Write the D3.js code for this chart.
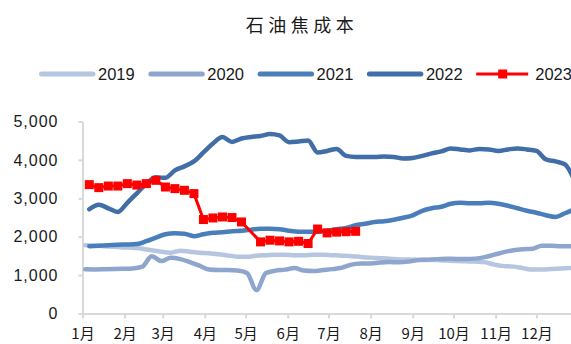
<!DOCTYPE html>
<html>
<head>
<meta charset="utf-8">
<script src="https://cdn.jsdelivr.net/npm/d3@7"></script>
<style>
  html, body { margin: 0; padding: 0; background: #fff; }
  svg { display: block; }
</style>
</head>
<body>
<svg id="chart" width="571" height="344"></svg>
<script>
// Weekly petroleum coke cost (元/吨), one series per year, plotted on a Jan–Dec calendar.
const seriesNames = ["2019", "2020", "2021", "2022", "2023"];
const seriesColors = ["#B6C5E0", "#8EA6CE", "#4A7EBB", "#416EA6", "#FF0000"];
const firstWeek = ["2023-01-03", "2023-01-03", "2023-01-06", "2023-01-06", "2023-01-06"];

const cost2019 = [1779, 1766, 1753, 1735, 1719, 1714, 1688, 1649, 1610, 1584, 1636, 1610, 1584,
  1571, 1545, 1512, 1481, 1475, 1506, 1519, 1532, 1532, 1519, 1519, 1532, 1532, 1519, 1506,
  1494, 1473, 1455, 1442, 1429, 1408, 1408, 1403, 1390, 1390, 1377, 1364, 1358, 1351, 1338,
  1273, 1234, 1221, 1182, 1143, 1143, 1156, 1169, 1182];
const cost2020 = [1151, 1148, 1151, 1156, 1164, 1174, 1221, 1494, 1364, 1449, 1416, 1338, 1247,
  1143, 1130, 1130, 1117, 1052, 610, 1052, 1117, 1143, 1182, 1117, 1104, 1130, 1156, 1195,
  1273, 1299, 1304, 1330, 1338, 1332, 1351, 1390, 1403, 1416, 1429, 1421, 1421, 1429, 1468,
  1532, 1597, 1649, 1675, 1688, 1766, 1766, 1753, 1753];
const cost2021 = [1753, 1766, 1779, 1792, 1797, 1810, 1883, 1974, 2065, 2091, 2078, 2013, 2065,
  2104, 2117, 2143, 2156, 2182, 2208, 2208, 2195, 2156, 2130, 2130, 2130, 2156, 2195, 2229,
  2299, 2338, 2384, 2403, 2442, 2494, 2558, 2675, 2740, 2779, 2857, 2883, 2870, 2870, 2883,
  2857, 2805, 2740, 2675, 2623, 2558, 2514, 2610, 2714];
const cost2022 = [2714, 2831, 2740, 2644, 2883, 3130, 3377, 3545, 3532, 3727, 3831, 3961, 4195,
  4429, 4597, 4468, 4558, 4597, 4623, 4675, 4636, 4462, 4481, 4506, 4195, 4234, 4286, 4104,
  4078, 4078, 4078, 4091, 4078, 4039, 4052, 4104, 4169, 4221, 4299, 4273, 4247, 4286, 4273,
  4234, 4273, 4299, 4273, 4234, 4013, 3961, 3883, 3468];
// 2023: no quote in the May Day holiday week (null)
const cost2023 = [3356, 3278, 3319, 3319, 3382, 3345, 3382, 3468, 3294, 3252, 3208, 3122, 2447,
  2488, 2514, 2499, 2384, null, 1865, 1909, 1891, 1865, 1880, 1823, 2200, 2100, 2120, 2130, 2140];

const seriesValues = [cost2019, cost2020, cost2021, cost2022, cost2023];
const yTicks = [0, 1000, 2000, 3000, 4000, 5000];
const title = "石油焦成本";

const parse = d3.timeParse("%Y-%m-%d");
const series = seriesNames.map((name, k) => {
  const start = parse(firstWeek[k]);
  return {
    name,
    color: seriesColors[k],
    points: seriesValues[k]
      .map((v, i) => ({ date: d3.timeDay.offset(start, 7 * i), value: v }))
      .filter(p => p.value !== null)
  };
});

const svg = d3.select("#chart");
const axisColor = "#D9D9D9";
const plotLeft = 82.5, plotBottom = 313.5, plotTop = 121.5;
const dayPx = 1.359;

const x = d3.scaleTime()
  .domain([parse("2023-01-01"), parse("2024-01-01")])
  .range([plotLeft, plotLeft + 365 * dayPx]);
const y = d3.scaleLinear().domain([0, 5000]).range([plotBottom, plotTop]);

// title
svg.append("text")
  .attr("x", 302).attr("y", 32)
  .attr("text-anchor", "middle")
  .style("font-family", "'Noto Sans CJK SC', sans-serif")
  .style("font-size", "18px")
  .style("letter-spacing", "4.5px")
  .attr("fill", "#1a1a1a")
  .text(title);

// legend
const legend = svg.append("g").attr("transform", "translate(39,74)");
series.forEach((s, i) => {
  const g = legend.append("g").attr("transform", `translate(${i * 109.3},0)`);
  if (s.name === "2023") {
    g.append("line").attr("x1", 0).attr("x2", 52).attr("y1", 0).attr("y2", 0)
      .attr("stroke", s.color).attr("stroke-width", 3);
    g.append("rect").attr("x", 22).attr("y", -4.5).attr("width", 9).attr("height", 9)
      .attr("fill", s.color);
  } else {
    g.append("line").attr("x1", 2.5).attr("x2", 54).attr("y1", 0).attr("y2", 0)
      .attr("stroke", s.color).attr("stroke-width", 5).attr("stroke-linecap", "round");
  }
  g.append("text").attr("x", 59).attr("y", 6)
    .style("font-family", "'Liberation Sans', Arial, sans-serif")
    .style("font-size", "16.5px")
    .attr("fill", "#1a1a1a")
    .text(s.name);
});

// y axis
const yAxis = svg.append("g")
  .attr("transform", `translate(${plotLeft},0)`)
  .call(d3.axisLeft(y).tickValues(yTicks).tickFormat(d3.format(",")).tickSize(4).tickSizeOuter(0).tickPadding(20));
yAxis.select(".domain").attr("stroke", axisColor).attr("stroke-width", 2);
yAxis.selectAll(".tick line").attr("stroke", axisColor).attr("stroke-width", 2);
yAxis.selectAll(".tick text")
  .style("font-family", "'Liberation Sans', Arial, sans-serif")
  .style("font-size", "16px")
  .style("letter-spacing", "1px")
  .attr("fill", "#1a1a1a");

// x axis
const xAxis = svg.append("g")
  .attr("transform", `translate(0,${plotBottom})`)
  .call(d3.axisBottom(x).ticks(d3.timeMonth.every(1)).tickFormat(d => (d.getMonth() + 1) + "月")
    .tickSize(5).tickSizeOuter(0).tickPadding(10));
xAxis.select(".domain").attr("stroke", axisColor).attr("stroke-width", 2);
xAxis.selectAll(".tick line").attr("stroke", axisColor).attr("stroke-width", 2);
xAxis.selectAll(".tick").filter(d => d.getFullYear() > 2023).remove();
xAxis.selectAll(".tick text")
  .style("font-family", "'Noto Sans CJK SC', sans-serif")
  .style("font-size", "15px")
  .attr("fill", "#1a1a1a");

// lines
const smooth = d3.line().x(d => x(d.date)).y(d => y(d.value)).curve(d3.curveMonotoneX);
const straight = d3.line().x(d => x(d.date)).y(d => y(d.value));

series.forEach(s => {
  const is2023 = s.name === "2023";
  svg.append("path")
    .datum(s.points)
    .attr("fill", "none")
    .attr("stroke", s.color)
    .attr("stroke-width", is2023 ? 3 : 4.5)
    .attr("stroke-linejoin", "round")
    .attr("stroke-linecap", "round")
    .attr("d", is2023 ? straight : smooth);
  if (is2023) {
    svg.append("g").selectAll("rect")
      .data(s.points)
      .join("rect")
      .attr("x", d => x(d.date) - 4.5)
      .attr("y", d => y(d.value) - 4.5)
      .attr("width", 9).attr("height", 9)
      .attr("fill", s.color);
  }
});
</script>
</body>
</html>
